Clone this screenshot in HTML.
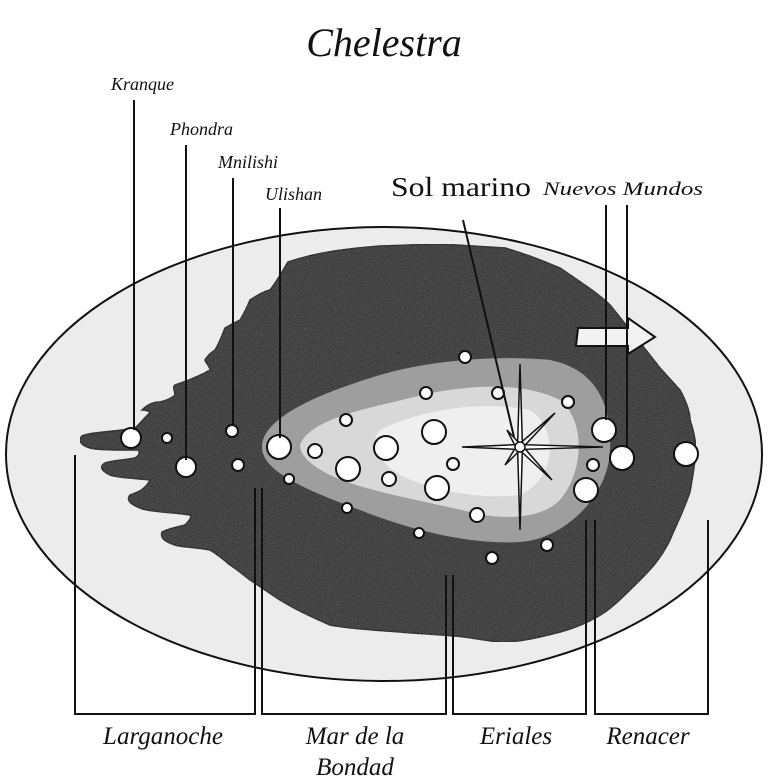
<!DOCTYPE html>
<html><head><meta charset="utf-8"><style>
html,body{margin:0;padding:0;background:#fff;}
svg{display:block;}
.l{font-family:"Liberation Serif",serif;font-style:italic;fill:#111;}
</style></head><body>
<svg width="768" height="784" viewBox="0 0 768 784" xmlns="http://www.w3.org/2000/svg">
<defs>
<filter id="n" x="0" y="0" width="100%" height="100%">
<feTurbulence type="fractalNoise" baseFrequency="0.9" numOctaves="1" seed="3" result="t"/>
<feColorMatrix in="t" type="matrix" values="0 0 0 0 0.1  0 0 0 0 0.1  0 0 0 0 0.1  0 0 0 1.4 -0.3" result="c"/>
<feComposite in="c" in2="SourceGraphic" operator="in" result="m"/>
<feMerge><feMergeNode in="SourceGraphic"/><feMergeNode in="m"/></feMerge>
</filter>
</defs>
<text x="384" y="56" text-anchor="middle" class="l" font-size="40">Chelestra</text>
<ellipse cx="384" cy="454" rx="378" ry="227" fill="#ececec" stroke="#111" stroke-width="2"/>
<path filter="url(#n)" fill="#353535" stroke="#111" stroke-width="1.5" d="M288,262 C310,255 330,250 380,246 L440,244 L505,248 C530,255 545,262 560,268 C585,285 600,295 610,305 C630,330 650,355 660,368 L680,390 C688,405 690,415 690,420 C695,435 696,445 696,452 C694,470 692,480 690,492 C682,515 676,525 670,540 C660,560 650,570 640,580 C625,595 615,605 605,612 C590,622 575,628 560,632 C530,640 515,642 500,642 C480,640 470,637 455,636 C430,634 410,633 400,632 C370,630 345,628 330,625 C300,612 290,606 280,600 C265,590 258,585 250,580 C240,572 235,568 230,565 C222,558 215,553 210,550 C195,547 180,547 175,545 C165,542 160,538 162,532 C170,528 178,527 185,525 C190,520 192,517 190,515 C170,512 150,512 140,508 C130,504 126,500 130,495 C138,492 145,490 150,480 C135,478 118,478 110,475 C100,470 100,466 105,463 C115,460 125,460 135,458 C140,455 140,452 138,450 C115,450 98,450 90,448 C80,445 78,440 82,436 C90,432 115,432 135,428 C140,424 142,420 150,413 C150,411 145,410 142,410 C148,404 155,402 160,402 C168,400 172,398 175,395 C175,390 172,387 175,385 C190,380 200,376 210,370 C210,366 205,362 205,360 C208,355 212,352 215,350 C220,342 222,335 225,328 C232,324 236,322 240,320 C245,312 248,305 250,300 C258,295 262,292 270,290 C278,280 283,270 288,262 Z"/>
<path fill="#9e9e9e" d="M262,447 C262,415 330,390 380,375 C430,360 500,355 550,360 C600,370 612,410 610,450 C608,500 560,540 520,542 C470,545 410,530 360,510 C300,488 262,470 262,447 Z"/>
<path fill="#d8d8d8" d="M300,445 C310,420 360,410 410,398 C460,385 520,380 560,400 C585,420 585,470 560,500 C540,520 500,520 470,512 C420,500 360,490 330,475 C310,465 300,455 300,445 Z"/>
<path fill="#efefef" d="M380,430 C420,410 480,400 530,410 C560,430 555,480 520,495 C480,500 430,490 400,475 C375,460 370,440 380,430 Z"/>
<path d="M578,328 L628,328 L628,318 L655,337 L628,354 L628,346 L576,346 Z" fill="#f2f2f2" stroke="#111" stroke-width="2"/>
<g fill="#fff" stroke="#111" stroke-width="1.5">
<polygon points="520,364 522.3,441.5 555,413 525.5,444.7 603,447 525.5,449.3 552,480 522.3,452.5 520,530 517.7,452.5 505,465 514.5,449.3 462,447 514.5,444.7 507,430 517.7,441.5"/>
<circle cx="520" cy="447" r="5"/>
</g>
<g fill="#fff" stroke="#111" stroke-width="2">
<circle cx="131" cy="438" r="10"/><circle cx="167" cy="438" r="5"/><circle cx="186" cy="467" r="10"/>
<circle cx="232" cy="431" r="6"/><circle cx="238" cy="465" r="6"/><circle cx="279" cy="447" r="12"/>
<circle cx="315" cy="451" r="7"/><circle cx="346" cy="420" r="6"/><circle cx="289" cy="479" r="5"/>
<circle cx="348" cy="469" r="12"/><circle cx="386" cy="448" r="12"/><circle cx="389" cy="479" r="7"/>
<circle cx="434" cy="432" r="12"/><circle cx="453" cy="464" r="6"/><circle cx="437" cy="488" r="12"/>
<circle cx="426" cy="393" r="6"/><circle cx="465" cy="357" r="6"/><circle cx="498" cy="393" r="6"/>
<circle cx="568" cy="402" r="6"/><circle cx="604" cy="430" r="12"/><circle cx="593" cy="465" r="6"/>
<circle cx="586" cy="490" r="12"/><circle cx="622" cy="458" r="12"/><circle cx="686" cy="454" r="12"/>
<circle cx="477" cy="515" r="7"/><circle cx="419" cy="533" r="5"/><circle cx="347" cy="508" r="5"/>
<circle cx="492" cy="558" r="6"/><circle cx="547" cy="545" r="6"/>
</g>
<g stroke="#111" stroke-width="2" fill="none">
<line x1="134" y1="100" x2="134" y2="430"/>
<line x1="186" y1="145" x2="186" y2="460"/>
<line x1="233" y1="178" x2="233" y2="426"/>
<line x1="280" y1="208" x2="280" y2="438"/>
<line x1="463" y1="220" x2="514" y2="437"/>
<line x1="606" y1="205" x2="606" y2="420"/>
<line x1="627" y1="205" x2="627" y2="448"/>
<polyline points="75,455 75,714 255,714 255,488"/>
<polyline points="262,488 262,714 446,714 446,575"/>
<polyline points="453,575 453,714 586,714 586,520"/>
<polyline points="595,520 595,714 708,714 708,520"/>
</g>
<text x="111" y="90" class="l" font-size="18">Kranque</text>
<text x="170" y="135" class="l" font-size="18">Phondra</text>
<text x="218" y="168" class="l" font-size="18">Mnilishi</text>
<text x="265" y="200" class="l" font-size="18">Ulishan</text>
<text x="391" y="196" font-family="Liberation Serif,serif" font-size="27" fill="#111" textLength="140" lengthAdjust="spacingAndGlyphs">Sol marino</text>
<text x="543" y="195" class="l" font-size="19" textLength="160" lengthAdjust="spacingAndGlyphs">Nuevos Mundos</text>
<text x="163" y="744" text-anchor="middle" class="l" font-size="25">Larganoche</text>
<text x="355" y="744" text-anchor="middle" class="l" font-size="25">Mar de la</text>
<text x="355" y="775" text-anchor="middle" class="l" font-size="25">Bondad</text>
<text x="516" y="744" text-anchor="middle" class="l" font-size="25">Eriales</text>
<text x="648" y="744" text-anchor="middle" class="l" font-size="25">Renacer</text>
</svg>
</body></html>
